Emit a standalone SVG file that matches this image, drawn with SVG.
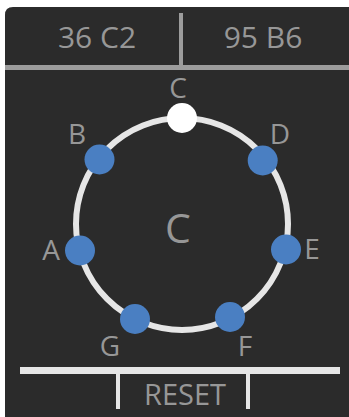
<svg xmlns="http://www.w3.org/2000/svg" width="349" height="417" viewBox="0 0 349 417">
<style>
.t{font-family:"Open Sans","Liberation Sans",sans-serif;fill:#979797;text-anchor:middle}
.lbl{font-size:28px}
.hdr{font-size:30px}
.dot{fill:#4a7fc2}
</style>
<rect x="0" y="0" width="349" height="417" fill="#ffffff"/>
<path d="M5 15 Q5 7 13 7 L349 7 L349 417 L5 417 Z" fill="#2b2b2b"/>
<g id="header">
<rect x="5" y="65" width="344" height="5" fill="#9c9c9c"/>
<rect x="179" y="13" width="4" height="53" fill="#9c9c9c"/>
<text class="t hdr" x="97" y="48">36 C2</text>
<text class="t hdr" x="263" y="48">95 B6</text>
</g>
<g id="connectors">
<circle cx="182" cy="224" r="106" fill="none" stroke="#e6e6e6" stroke-width="6"/>
</g>
<g id="center"><text class="t" x="178" y="243" font-size="41">C</text></g>
<g id="nC"><circle cx="182" cy="118" r="15" fill="#ffffff"/><text class="t lbl" x="178" y="98">C</text></g>
<g id="nD"><circle cx="262.7" cy="160.5" r="15" class="dot"/><text class="t lbl" x="280" y="144">D</text></g>
<g id="nE"><circle cx="286" cy="249.5" r="15" class="dot"/><text class="t lbl" x="312" y="259">E</text></g>
<g id="nF"><circle cx="230" cy="317" r="15" class="dot"/><text class="t lbl" x="245" y="356">F</text></g>
<g id="nG"><circle cx="135" cy="319" r="15" class="dot"/><text class="t lbl" x="110" y="356">G</text></g>
<g id="nA"><circle cx="80" cy="250.5" r="15" class="dot"/><text class="t lbl" x="51" y="260">A</text></g>
<g id="nB"><circle cx="99.5" cy="159.5" r="15" class="dot"/><text class="t lbl" x="77" y="144">B</text></g>
<g id="reset">
<rect x="20" y="367" width="320" height="7" fill="#e6e6e6"/>
<rect x="116" y="373" width="4" height="36" fill="#e6e6e6"/>
<rect x="246" y="373" width="4" height="36" fill="#e6e6e6"/>
<text class="t" x="185" y="405" font-size="29">RESET</text>
</g>
</svg>
